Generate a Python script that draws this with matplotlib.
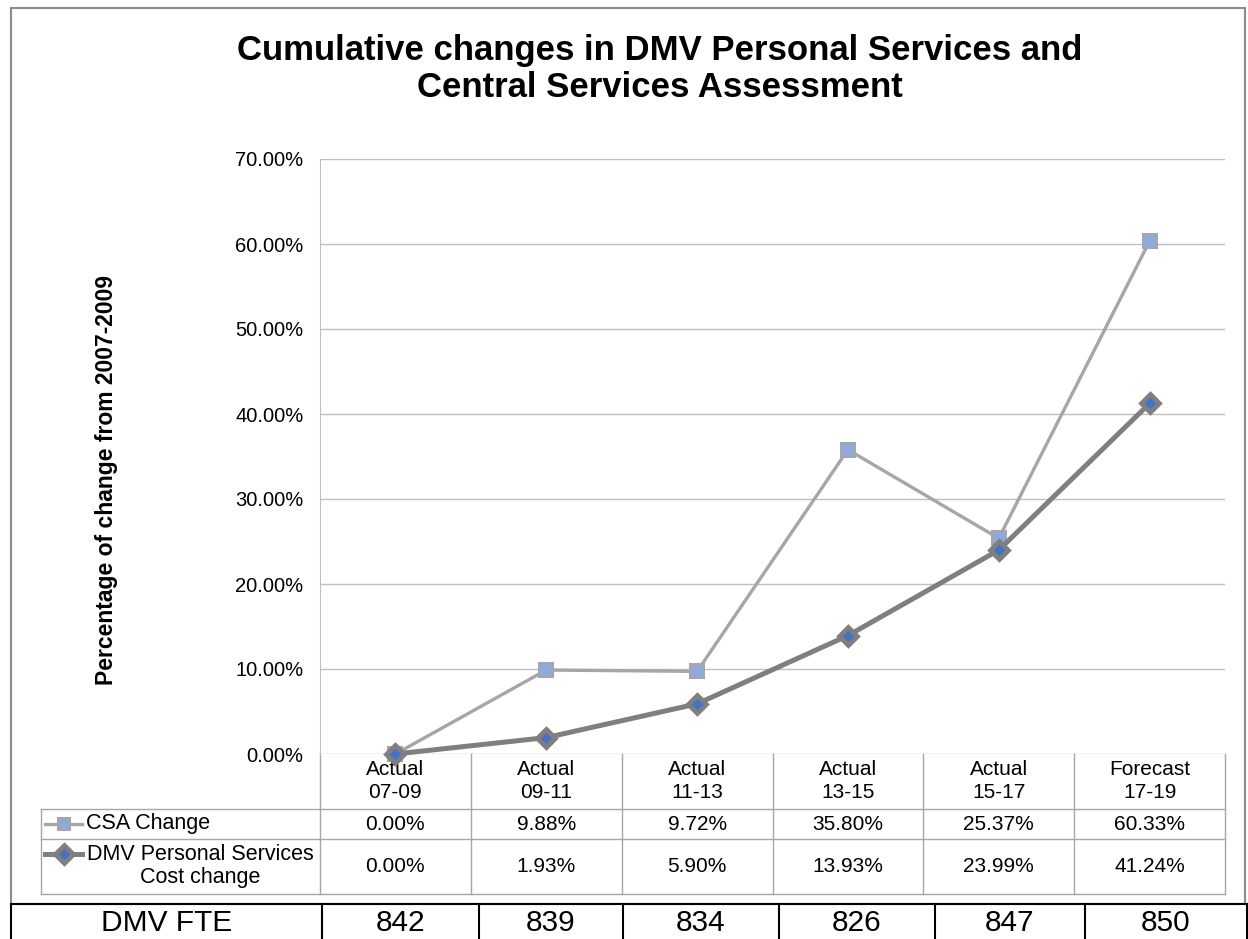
import numpy as np
import matplotlib
matplotlib.use("Agg")
import matplotlib.pyplot as plt
from matplotlib.patches import Rectangle

plt.rcParams['font.family'] = ['Liberation Sans', 'DejaVu Sans']

# Biennium labels and cumulative % changes since 2007-09
periods = ["Actual\n07-09", "Actual\n09-11", "Actual\n11-13",
           "Actual\n13-15", "Actual\n15-17", "Forecast\n17-19"]
csa_change = [0.00, 9.88, 9.72, 35.80, 25.37, 60.33]
dmv_ps_change = [0.00, 1.93, 5.90, 13.93, 23.99, 41.24]
dmv_fte = [842, 839, 834, 826, 847, 850]

W, H = 1248, 939
CSA_LINE = '#a6a6a6'
CSA_FACE = '#8eaadb'
DMV_LINE = '#7f7f7f'
DMV_FACE = '#4472c4'
GRID = '#bfbfbf'
TABLE = '#a6a6a6'

fig = plt.figure(figsize=(W / 100, H / 100), dpi=100)

# pixel-space helper axes for the border, the data table and the FTE row
ax_px = fig.add_axes([0, 0, 1, 1], zorder=0)
ax_px.set_xlim(0, W)
ax_px.set_ylim(H, 0)
ax_px.axis('off')
ax_px.patch.set_alpha(0)

# plot area
px_l, px_r, px_t, px_b = 320, 1225, 159, 754
ax = fig.add_axes([px_l / W, 1 - px_b / H, (px_r - px_l) / W, (px_b - px_t) / H], zorder=2)
ax.patch.set_alpha(0)

x = np.arange(len(periods))
ax.plot(x, csa_change, color=CSA_LINE, lw=2.4, marker='s', ms=10,
        mfc=CSA_FACE, mec=CSA_LINE, mew=1.5, clip_on=False, zorder=3)
ax.plot(x, dmv_ps_change, color=DMV_LINE, lw=3.6, marker='D', ms=9,
        mfc=DMV_FACE, mec=DMV_LINE, mew=3.4, clip_on=False, zorder=4)

ax.set_xlim(-0.5, len(periods) - 0.5)
ax.set_ylim(0, 70)
ax.set_yticks(np.arange(0, 71, 10))
ax.set_yticklabels([f"{v:.2f}%" for v in np.arange(0, 71, 10)], fontsize=14.5)
ax.tick_params(axis='y', length=0, pad=12)
ax.set_xticks([])
ax.grid(axis='y', color=GRID, lw=1)
for s in ['top', 'right', 'bottom']:
    ax.spines[s].set_visible(False)
ax.spines['left'].set_color(GRID)

# outer chart border
ax_px.add_patch(Rectangle((11, 8), 1234, 896, fill=False, ec='#8c8c8c', lw=1.5))

ax_px.text(660, 69, "Cumulative changes in DMV Personal Services and\nCentral Services Assessment",
           ha='center', va='center', fontsize=25, fontweight='bold', linespacing=1.15)
ax_px.text(107, 480, "Percentage of change from 2007-2009", rotation=90,
           ha='center', va='center', fontsize=16.5, fontweight='bold')

# data table under the plot
col_w = (px_r - px_l) / len(periods)
edges = [px_l + col_w * i for i in range(len(periods) + 1)]
hdr_b, row1_b, row2_b, tbl_l = 809, 839, 894, 41
for e in edges:
    ax_px.plot([e, e], [px_b, row2_b], color=TABLE, lw=1)
ax_px.plot([tbl_l, tbl_l], [hdr_b, row2_b], color=TABLE, lw=1)
for yy in (hdr_b, row1_b, row2_b):
    ax_px.plot([tbl_l, px_r], [yy, yy], color=TABLE, lw=1)

for i, lab in enumerate(periods):
    cx = (edges[i] + edges[i + 1]) / 2
    ax_px.text(cx, 781, lab, ha='center', va='center', fontsize=15, linespacing=1.25)
    ax_px.text(cx, 824, f"{csa_change[i]:.2f}%", ha='center', va='center', fontsize=15)
    ax_px.text(cx, 866, f"{dmv_ps_change[i]:.2f}%", ha='center', va='center', fontsize=15)

# legend keys inside the table
ax_px.plot([45, 82], [824, 824], color=CSA_LINE, lw=2.4, zorder=3)
ax_px.plot([64], [824], marker='s', ms=9, mfc=CSA_FACE, mec=CSA_LINE, mew=1.5, zorder=4)
ax_px.text(86, 824, "CSA Change", ha='left', va='center', fontsize=15.5)
ax_px.plot([45, 82], [854, 854], color=DMV_LINE, lw=3.6, zorder=3)
ax_px.plot([64], [854], marker='D', ms=9, mfc=DMV_FACE, mec=DMV_LINE, mew=3.4, zorder=4)
ax_px.text(200, 866, "DMV Personal Services\nCost change", ha='center', va='center',
           fontsize=15.5, multialignment='center', linespacing=1.1)

# FTE row along the bottom
fte_top = 904
fte_edges = [11, 322, 479, 623, 779, 935, 1085, 1247]
ax_px.plot([11, W], [fte_top, fte_top], color='black', lw=1.5)
for e in fte_edges:
    ax_px.plot([e, e], [fte_top, H], color='black', lw=1.5)
ax_px.text((fte_edges[0] + fte_edges[1]) / 2, 923, "DMV FTE", ha='center', va='center', fontsize=21.5)
for i, v in enumerate(dmv_fte):
    ax_px.text((fte_edges[i + 1] + fte_edges[i + 2]) / 2, 923, str(v),
               ha='center', va='center', fontsize=21.5)

fig.savefig("out.png", dpi=100)
